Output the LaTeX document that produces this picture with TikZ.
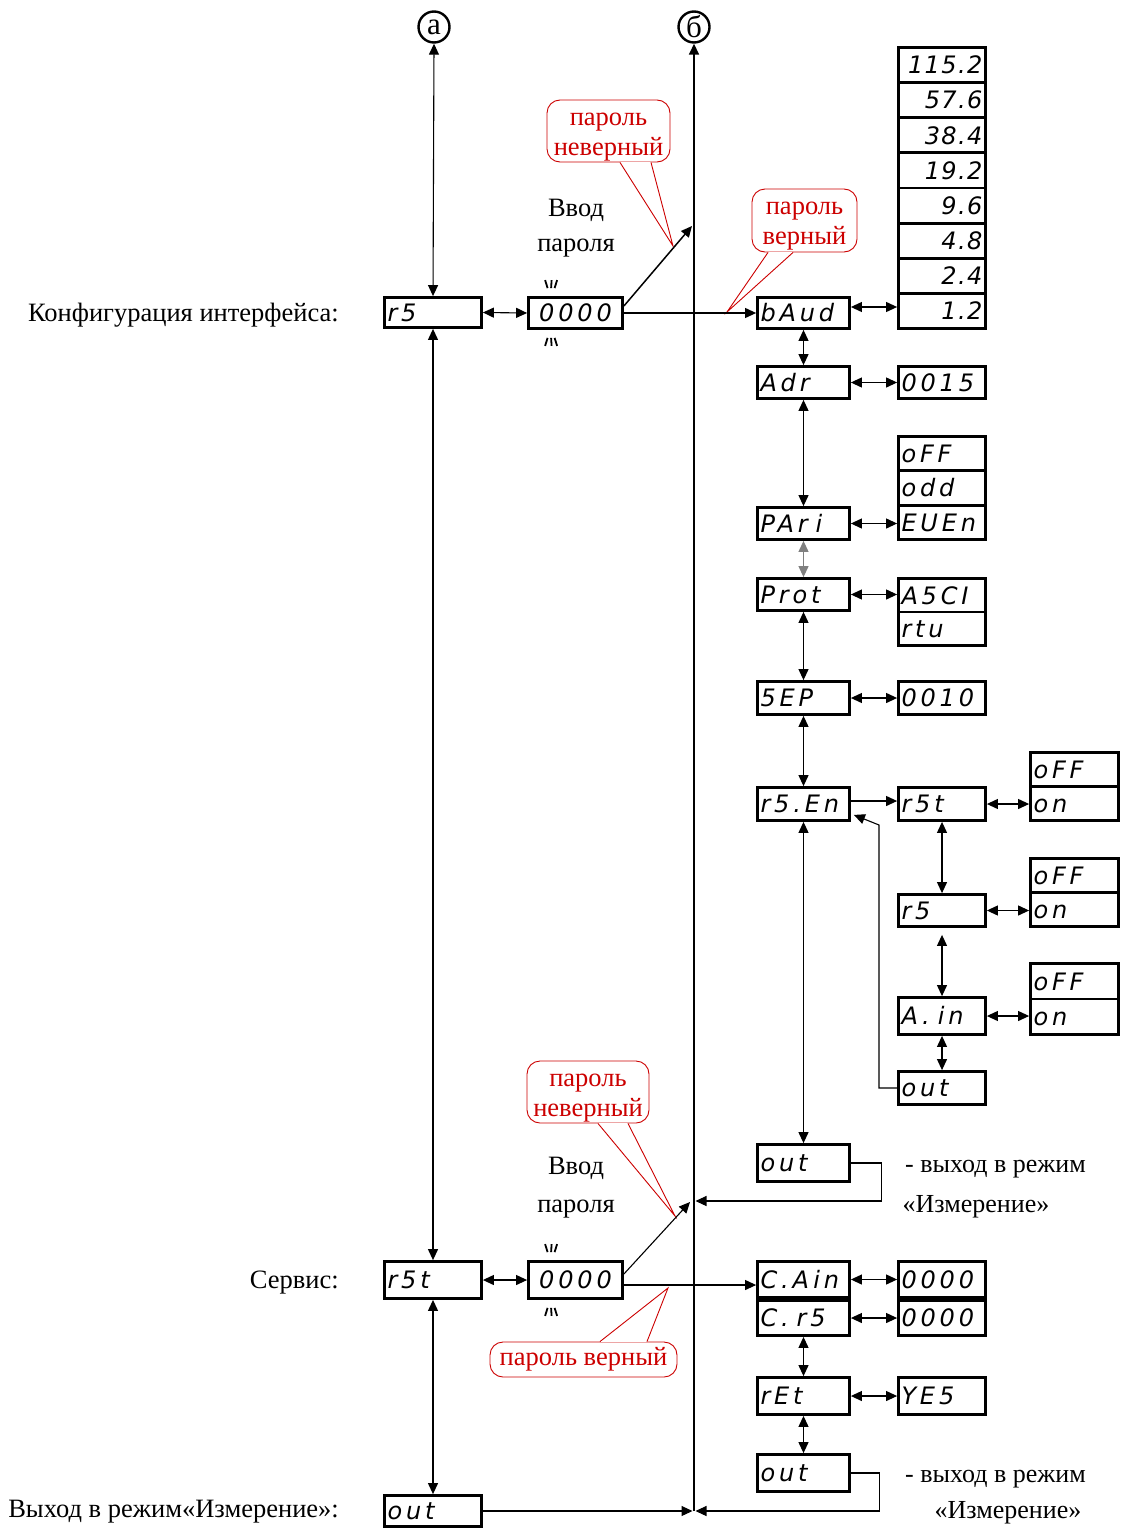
\documentclass[tikz,border=0pt]{standalone}
\usepackage{fontspec}
\setmainfont{Liberation Serif}
\newfontfamily\segfont{DejaVu Sans}[LetterSpace=16]
\newfontfamily\segvfont{DejaVu Sans}[LetterSpace=6]
\newcommand\seg{\segfont\itshape\fontsize{24}{24}\selectfont}
\newcommand\segv{\segvfont\itshape\fontsize{24}{24}\selectfont}
\newcommand\tstrut{\rule{0pt}{24pt}}
\usetikzlibrary{arrows.meta,calc}
\definecolor{cred}{RGB}{204,0,0}
\tikzset{
  disp/.style 2 args={draw, line width=2.8pt, minimum width=#1, minimum height=#2,
    inner xsep=2pt, inner ysep=0pt, text width={#1-6pt}, align=left,
    text height=17.5pt, text depth=0pt, font=\seg},
  valbox/.style 2 args={disp={#1}{#2}, align=right, font=\segv},
  cbox/.style 2 args={disp={#1}{#2}, align=center},
  conn/.style={line width=1.1pt},
  arr/.style={conn, -{Triangle[length=11pt,width=10pt]}},
  dbl/.style={conn, {Triangle[length=11pt,width=10pt]}-{Triangle[length=11pt,width=10pt]}},
  callout/.style={draw=cred, rounded corners=13pt, line width=0.9pt, text=cred, align=center,
    font=\fontsize{26.5}{30}\selectfont, inner sep=0pt, fill=white},
  ptr/.style={draw=cred, fill=white, line width=0.9pt},
  lbl/.style={font=\fontsize{26.5}{35}\selectfont, inner sep=0pt},
  note/.style={font=\fontsize{26}{30}\selectfont, inner sep=0pt},
  circ/.style={circle, draw, line width=2.4pt, minimum size=31pt, inner sep=0pt, font=\fontsize{31}{31}\selectfont},
  blink/.style={line width=1.8pt}
}
\begin{document}
\begin{tikzpicture}[x=1pt,y=-1pt]
\useasboundingbox (0,0) rectangle (1125,1528);

% circles
\node[circ] (ca) at (434,27) {а};
\node[circ] (cb) at (694,27) {б};

% left labels
\node[lbl, anchor=east] (l1) at (339,315) {Конфигурация интерфейса:};
\node[lbl, anchor=east] (l2) at (339,1283) {Сервис:};
\node[lbl, anchor=east] (l3) at (339,1512) {Выход в режим«Измерение»:};

% Input password labels
\node[lbl, align=center] (vv1) at (576,228) {Ввод\\пароля};
\node[lbl, align=center, font=\fontsize{26.5}{38}\selectfont] (vv2) at (576,1188) {Ввод\\пароля};

% callouts
\node[callout, minimum width=123pt, minimum height=62pt] (cw1) at (608.5,131) {\tstrut пароль\\неверный};
\node[callout, minimum width=105pt, minimum height=63pt] (cw2) at (804.5,220.5) {\tstrut пароль\\верный};
\node[callout, minimum width=122pt, minimum height=62pt] (cw3) at (588,1092) {\tstrut пароль\\неверный};
\node[callout, minimum width=187pt, minimum height=35pt] (cw4) at (583.5,1359.5) {пароль верный};
\coordinate (tp1) at (673,246);
\coordinate (tp2) at (727,312);
\coordinate (tp3) at (675,1216);
\coordinate (tp4) at (668,1288);
\filldraw[ptr] ($(cw1.south)+(11.5,0)$) -- (tp1) -- ($(cw1.south)+(42.5,0)$);
\draw[white, line width=1.6pt] ($(cw1.south)+(12.5,0)$) -- ($(cw1.south)+(41.5,0)$);
\filldraw[ptr] ($(cw2.south)+(-36.5,0)$) -- (tp2) -- ($(cw2.south)+(-11.5,0)$);
\draw[white, line width=1.6pt] ($(cw2.south)+(-35.5,0)$) -- ($(cw2.south)+(-12.5,0)$);
\filldraw[ptr] ($(cw3.south)+(10,0)$) -- (tp3) -- ($(cw3.south)+(40,0)$);
\draw[white, line width=1.6pt] ($(cw3.south)+(11,0)$) -- ($(cw3.south)+(39,0)$);
\filldraw[ptr] ($(cw4.north)+(16.5,0)$) -- (tp4) -- ($(cw4.north)+(63.5,0)$);
\draw[white, line width=1.6pt] ($(cw4.north)+(17.5,0)$) -- ($(cw4.north)+(62.5,0)$);

% left column
\node[disp={97pt}{30pt}] (rs) at (433,312.5) {r5};
\node[disp={97pt}{37pt}] (rst) at (433,1280) {r5t};
\node[disp={97pt}{31pt}] (outL) at (433,1511) {out};
% password boxes
\node[cbox={94pt}{31pt}] (pw1) at (575.5,313) {0000};
\node[cbox={94pt}{37pt}] (pw2) at (575.5,1280) {0000};

% main column
\node[disp={92pt}{31pt}] (baud) at (803.5,313) {bAud};
\node[disp={92pt}{32pt}] (adr) at (803.5,382.5) {Adr};
\node[disp={92pt}{32pt}] (pari) at (803.5,523.5) {PAr i};
\node[disp={92pt}{32pt}] (prot) at (803.5,594.5) {Prot};
\node[disp={92pt}{33pt}] (sep) at (803.5,698) {5EP};
\node[disp={92pt}{33pt}] (rsen) at (803.5,804) {r5.En};
\node[disp={92pt}{37pt}] (outM) at (803.5,1163) {out};
\node[disp={92pt}{36pt}] (cain) at (803.5,1279.5) {C.A\hspace{0.18em}in};
\node[disp={92pt}{35pt}] (crs) at (803.5,1318) {C. r5};
\node[disp={92pt}{37pt}] (ret) at (803.5,1396) {rEt};
\node[disp={92pt}{37pt}] (outS) at (803.5,1473) {out};

% value column
\foreach \t [count=\i] in {115.2,57.6,38.4,19.2,9.6,4.8,2.4,1.2}
  \node[valbox={87pt}{35.125pt}] (b\i) at (942,{47.5+17.5625+35.125*(\i-1)}) {\t};
\node[disp={87pt}{32pt}] (v15) at (942,382.5) {0015};
\node[disp={87pt}{34.33pt}] (par1) at (942,453.67) {oFF};
\node[disp={87pt}{34.33pt}] (par2) at (942,488) {odd};
\node[disp={87pt}{34.33pt}] (par3) at (942,522.33) {EUEn};
\node[disp={87pt}{33.5pt}] (pro1) at (942,595.25) {A5CI};
\node[disp={87pt}{33.5pt}] (pro2) at (942,628.75) {rtu};
\node[disp={87pt}{33pt}] (v10) at (942,698) {0010};
\node[disp={87pt}{33pt}] (rst2) at (942,804) {r5t};
\node[disp={87pt}{32pt}] (rs2) at (942,910.5) {r5};
\node[disp={87pt}{37pt}] (ain) at (942,1016) {A. in};
\node[disp={87pt}{33pt}] (outsub) at (942,1088) {out};
\node[disp={87pt}{36pt}] (ca0) at (942,1279.5) {0000};
\node[disp={87pt}{35pt}] (cr0) at (942,1318) {0000};
\node[disp={87pt}{37pt}] (yes) at (942,1396) {YE5};

% far column
\node[disp={88pt}{34pt}] (s1a) at (1074.5,769.5) {oFF};
\node[disp={88pt}{34pt}] (s1b) at (1074.5,803.5) {on};
\node[disp={88pt}{34pt}] (s2a) at (1074.5,875.5) {oFF};
\node[disp={88pt}{34pt}] (s2b) at (1074.5,909.5) {on};
\node[disp={88pt}{35.5pt}] (s3a) at (1074.5,981.25) {oFF};
\node[disp={88pt}{35.5pt}] (s3b) at (1074.5,1016.75) {on};

% right side notes
\node[note, anchor=west] (n1) at (905,1169) {- выход в режим};
\node[note] (n2) at (976,1207) {«Измерение»};
\node[note, anchor=west] (n3) at (905,1479) {- выход в режим};
\node[note] (n4) at (1008,1513) {«Измерение»};

% blink marks
\foreach \p in {pw1,pw2}{
  \begin{scope}[shift={(\p.north west)}]
    \draw[blink] (18,-16) -- (20.5,-8) (24.5,-16) -- (24,-8) (30,-16) -- (27.5,-8);
  \end{scope}
  \begin{scope}[shift={(\p.south west)}]
    \draw[blink] (20.5,8) -- (18,16) (24,8) -- (24.5,16) (27.5,8) -- (30,16);
  \end{scope}
}

% junction coordinates
\coordinate (t1) at (692,226);
\coordinate (t2) at (690,1202);
\coordinate (bb) at (694,1511);
\coordinate (j1) at (695.5,1201);
\coordinate (j2) at (695.5,1511);
\coordinate (j3) at (692.5,1511);
\coordinate (h1) at ($(baud.east)+(0,-6)$);
\coordinate (h2) at ($(pw2.east)+(0,5)$);
\coordinate (h3) at ($(rsen.east)+(0,-3)$);

% connectors
\draw[arr, line width=1.6pt] (bb) -- (cb.south);
\draw[dbl] (ca.south) -- (rs.north);
\draw[dbl] (rs.south) -- (rst.north);
\draw[dbl] (rst.south) -- (outL.north);
\draw[dbl] (rs.east) -- (pw1.west);
\draw[dbl] (rst.east) -- (pw2.west);
\draw[arr] (pw1.east) -- (baud.west);
\draw[arr, line width=1.5pt] ($(pw1.east)+(0,-7)$) -- (t1);
\draw[arr] (h2) -- (h2 -| cain.west);
\draw[arr] ($(pw2.east)+(0,-6)$) -- (t2);

\draw[dbl] (h1) -- (h1 -| b8.west);
\draw[dbl] (baud.south) -- (adr.north);
\draw[dbl] (adr.east) -- (adr.east -| v15.west);
\draw[dbl] (adr.south) -- (pari.north);
\draw[dbl] (pari.east) -- (pari.east -| par3.west);
\draw[dbl, draw=gray, {Triangle[length=11pt,width=10pt,fill=gray]}-{Triangle[length=11pt,width=10pt,fill=gray]}] (pari.south) -- (prot.north);
\draw[dbl] (prot.east) -- (prot.east -| pro1.west);
\draw[dbl] (prot.south) -- (sep.north);
\draw[dbl] (sep.east) -- (sep.east -| v10.west);
\draw[dbl] (sep.south) -- (rsen.north);
\draw[arr] (h3) -- (h3 -| rst2.west);
\draw[dbl] (rst2.east) -- (rst2.east -| s1b.west);
\draw[dbl] (rst2.south) -- (rs2.north);
\draw[dbl] (rs2.east) -- (rs2.east -| s2b.west);
\draw[dbl, shorten <=7pt] (rs2.south) -- (ain.north);
\draw[dbl] (ain.east) -- (ain.east -| s3b.west);
\draw[dbl] (ain.south) -- (outsub.north);
\draw[arr] (outsub.west) -| (879,825) -- ($(rsen.south east)+(3,-7)$);
\draw[dbl] (rsen.south) -- (outM.north);
\draw[arr] (outM.east) -- ++(31,0) |- (j1);
\draw[dbl] (cain.east) -- (cain.east -| ca0.west);
\draw[dbl] (crs.east) -- (crs.east -| cr0.west);
\draw[dbl] (crs.south) -- (ret.north);
\draw[dbl] (ret.east) -- (ret.east -| yes.west);
\draw[dbl] (ret.south) -- (outS.north);
\draw[arr] (outS.east) -- ++(29,0) |- (j2);
\draw[arr] (outL.east) -- (j3);
\end{tikzpicture}
\end{document}
